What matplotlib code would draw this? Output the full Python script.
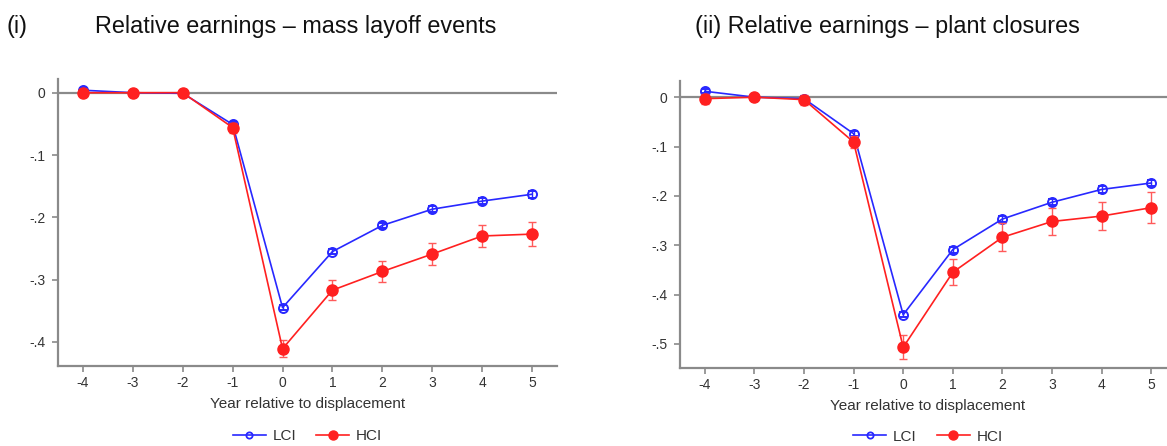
import matplotlib
matplotlib.use("Agg")
import matplotlib.pyplot as plt
from matplotlib.lines import Line2D

plt.rcParams['font.family'] = ['Liberation Sans', 'DejaVu Sans']

years = [-4, -3, -2, -1, 0, 1, 2, 3, 4, 5]

# Panel (i): mass layoff events
ml_lci = [0.004, 0.0, -0.001, -0.051, -0.345, -0.255, -0.213, -0.187, -0.174, -0.163]
ml_lci_err = [0.004, 0.001, 0.004, 0.004, 0.004, 0.004, 0.004, 0.005, 0.005, 0.006]
ml_hci = [0.0, 0.0, 0.0, -0.056, -0.411, -0.317, -0.287, -0.259, -0.230, -0.227]
ml_hci_err = [0.006, 0.002, 0.006, 0.008, 0.014, 0.016, 0.017, 0.018, 0.018, 0.019]

# Panel (ii): plant closures
pc_lci = [0.012, 0.0, -0.003, -0.074, -0.441, -0.309, -0.247, -0.213, -0.187, -0.174]
pc_lci_err = [0.004, 0.001, 0.005, 0.005, 0.005, 0.006, 0.006, 0.006, 0.007, 0.007]
pc_hci = [-0.003, 0.0, -0.005, -0.091, -0.507, -0.355, -0.284, -0.252, -0.241, -0.224]
pc_hci_err = [0.010, 0.002, 0.010, 0.013, 0.024, 0.026, 0.028, 0.028, 0.029, 0.031]

ml_yticks = [0, -0.1, -0.2, -0.3, -0.4]
ml_yticklabels = ['0', '-.1', '-.2', '-.3', '-.4']
pc_yticks = [0, -0.1, -0.2, -0.3, -0.4, -0.5]
pc_yticklabels = ['0', '-.1', '-.2', '-.3', '-.4', '-.5']

titles = ['Relative earnings \u2013 mass layoff events', '(ii) Relative earnings \u2013 plant closures']
xlabel = 'Year relative to displacement'

BLUE = '#2828ff'
RED = '#ff2020'
GRAY = '#8a8a8a'
TXT = '#333333'

fig = plt.figure(figsize=(11.67, 4.46), dpi=100)
ax1 = fig.add_axes([58/1167, 80/446, 499/1167, 287/446])
ax2 = fig.add_axes([680/1167, 78/446, 496/1167, 286.6/446])

def draw(ax, lci, lcie, hci, hcie, yticks, ylabels, ylim, legy):
    ax.axhline(0, color=GRAY, lw=1.6, zorder=1)
    ax.errorbar(years, lci, yerr=lcie, color=BLUE, lw=1.2, marker='o', ms=6.5,
                mfc='none', mec=BLUE, mew=1.4, ecolor=BLUE, elinewidth=1.0,
                capsize=3, zorder=3)
    ax.errorbar(years, hci, yerr=hcie, color=RED, lw=1.2, marker='o', ms=8,
                mfc=RED, mec=RED, ecolor='#ff5a5a', elinewidth=1.0,
                capsize=3, zorder=4)
    ax.set_xlim(-4.5, 5.5)
    ax.set_ylim(*ylim)
    ax.set_xticks(years)
    ax.set_xticklabels([str(y) for y in years])
    ax.set_yticks(yticks)
    ax.set_yticklabels(ylabels)
    for s in ['top', 'right']:
        ax.spines[s].set_visible(False)
    for s in ['left', 'bottom']:
        ax.spines[s].set_color(GRAY)
        ax.spines[s].set_linewidth(1.6)
    ax.tick_params(axis='both', colors=GRAY, labelcolor=TXT, labelsize=10,
                   length=4, width=1.2, direction='out')
    ax.tick_params(axis='y', pad=5)
    ax.set_xlabel(xlabel, fontsize=11, color=TXT, labelpad=5)
    h = [Line2D([], [], color=BLUE, lw=1.2, marker='o', ms=4.5, mfc='none', mec=BLUE, mew=1.3),
         Line2D([], [], color=RED, lw=1.2, marker='o', ms=6.5, mfc=RED, mec=RED)]
    leg = ax.legend(h, ['LCI', 'HCI'], loc='center', bbox_to_anchor=(0.5, legy),
                    ncol=2, frameon=False, fontsize=11, handlelength=2.15,
                    columnspacing=1.3, handletextpad=0.45, borderpad=0.2)
    for t in leg.get_texts():
        t.set_color(TXT)

draw(ax1, ml_lci, ml_lci_err, ml_hci, ml_hci_err, ml_yticks, ml_yticklabels, (-0.4387, 0.022), -0.245)
draw(ax2, pc_lci, pc_lci_err, pc_hci, pc_hci_err, pc_yticks, pc_yticklabels, (-0.549, 0.032), -0.24)

fig.text(7/1167, 1 - 26/446, '(i)', fontsize=16.8, va='center', ha='left', color='#111111')
fig.text(295.5/1167, 1 - 26/446, titles[0], fontsize=16.8, va='center', ha='center', color='#111111')
fig.text(887/1167, 1 - 26/446, titles[1], fontsize=16.8, va='center', ha='center', color='#111111')

fig.savefig('out.png', dpi=100)
